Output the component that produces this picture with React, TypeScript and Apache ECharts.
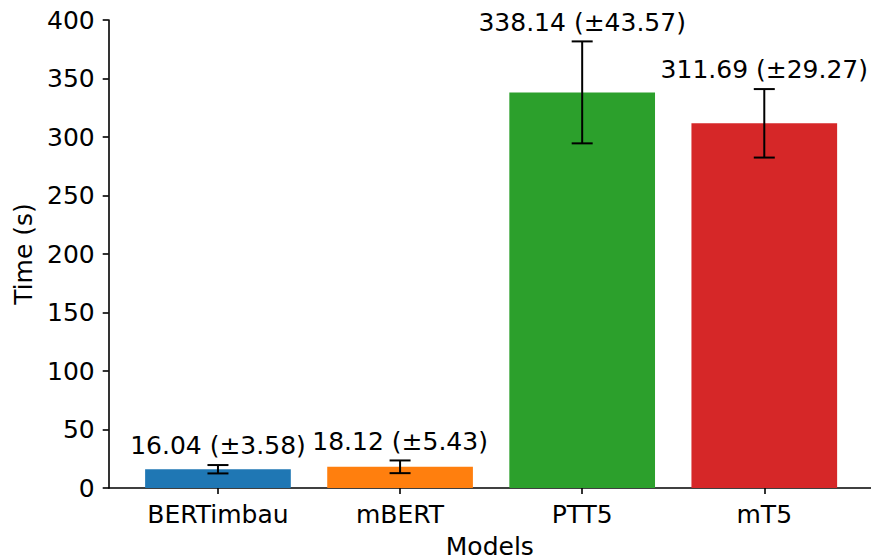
import React, { useEffect, useRef } from "react";
import * as echarts from "echarts";

const categories = ["BERTimbau", "mBERT", "PTT5", "mT5"];
const means = [16.04, 18.12, 338.14, 311.69];
const errors = [3.58, 5.43, 43.57, 29.27];
const colors = ["#1f77b4", "#ff7f0e", "#2ca02c", "#d62728"];
const yTicks = [0, 50, 100, 150, 200, 250, 300, 350, 400];

const FONT = "DejaVu Sans";
const FS = 25;

export default function App() {
  const ref = useRef<HTMLDivElement>(null);
  useEffect(() => {
    const chart = echarts.init(ref.current!, null, { renderer: "svg" });
    const barData = means.map((v, i) => ({ value: [i, v], itemStyle: { color: colors[i] } }));
    const errData = means.map((v, i) => [i, v, errors[i]]);
    chart.setOption({
      animation: false,
      grid: { left: 108.7, right: 0, top: 20, bottom: 69, containLabel: false, outerBoundsMode: "none" },
      xAxis: {
        type: "value",
        min: -0.6,
        max: 3.586,
        name: "Models",
        nameLocation: "middle",
        nameGap: 48,
        nameTextStyle: { fontFamily: FONT, fontSize: FS, color: "#000", lineHeight: 20 },
        splitLine: { show: false },
        axisLine: { show: true, onZero: false, lineStyle: { color: "#000", width: 1.6 } },
        axisTick: { show: true, customValues: [0, 1, 2, 3], length: 6, lineStyle: { color: "#000", width: 1.6 } },
        axisLabel: {
          customValues: [0, 1, 2, 3],
          formatter: (v: number) => categories[Math.round(v)] ?? "",
          fontFamily: FONT,
          fontSize: FS,
          color: "#000",
          margin: 14,
        },
      },
      yAxis: {
        type: "value",
        min: 0,
        max: 400,
        interval: 50,
        name: "Time (s)",
        nameLocation: "middle",
        nameGap: 73,
        nameRotate: 90,
        nameTextStyle: { fontFamily: FONT, fontSize: FS, color: "#000" },
        splitLine: { show: false },
        axisLine: { show: true, onZero: false, lineStyle: { color: "#000", width: 1.6 } },
        axisTick: { show: true, length: 6, lineStyle: { color: "#000", width: 1.6 } },
        axisLabel: {
          formatter: (v: number) => (yTicks.includes(v) ? String(v) : ""),
          fontFamily: FONT,
          fontSize: FS,
          color: "#000",
          margin: 14,
        },
      },
      series: [
        {
          type: "custom",
          data: barData,
          encode: { x: 0, y: 1 },
          renderItem: (params: any, api: any) => {
            const i = api.value(0);
            const v = api.value(1);
            const p0 = api.coord([i - 0.4, v]);
            const p1 = api.coord([i + 0.4, 0]);
            return {
              type: "rect",
              shape: { x: p0[0], y: p0[1], width: p1[0] - p0[0], height: p1[1] - p0[1] },
              style: { fill: colors[params.dataIndex] },
            };
          },
        },
        {
          type: "custom",
          data: errData,
          encode: { x: 0, y: 1 },
          z: 5,
          renderItem: (params: any, api: any) => {
            const i = api.value(0);
            const v = api.value(1);
            const e = api.value(2);
            const top = api.coord([i, v + e]);
            const bot = api.coord([i, v - e]);
            const lbl = api.coord([i, v + e + 5]);
            const cap = 10.5;
            const ls = { stroke: "#000", lineWidth: 2 };
            return {
              type: "group",
              children: [
                { type: "line", shape: { x1: top[0], y1: top[1], x2: bot[0], y2: bot[1] }, style: ls },
                { type: "line", shape: { x1: top[0] - cap, y1: top[1], x2: top[0] + cap, y2: top[1] }, style: ls },
                { type: "line", shape: { x1: bot[0] - cap, y1: bot[1], x2: bot[0] + cap, y2: bot[1] }, style: ls },
                {
                  type: "text",
                  x: lbl[0],
                  y: lbl[1] - 1,
                  style: {
                    text: `${v.toFixed(2)} (±${e.toFixed(2)})`,
                    fontFamily: FONT,
                    fontSize: FS,
                    fill: "#000",
                    align: "center",
                    verticalAlign: "bottom",
                  },
                },
              ],
            };
          },
        },
      ],
    });
    return () => chart.dispose();
  }, []);
  return (
    <div
      ref={ref}
      style={{ position: "absolute", left: 0, top: 0, width: 871, height: 557, background: "#fff" }}
    />
  );
}
